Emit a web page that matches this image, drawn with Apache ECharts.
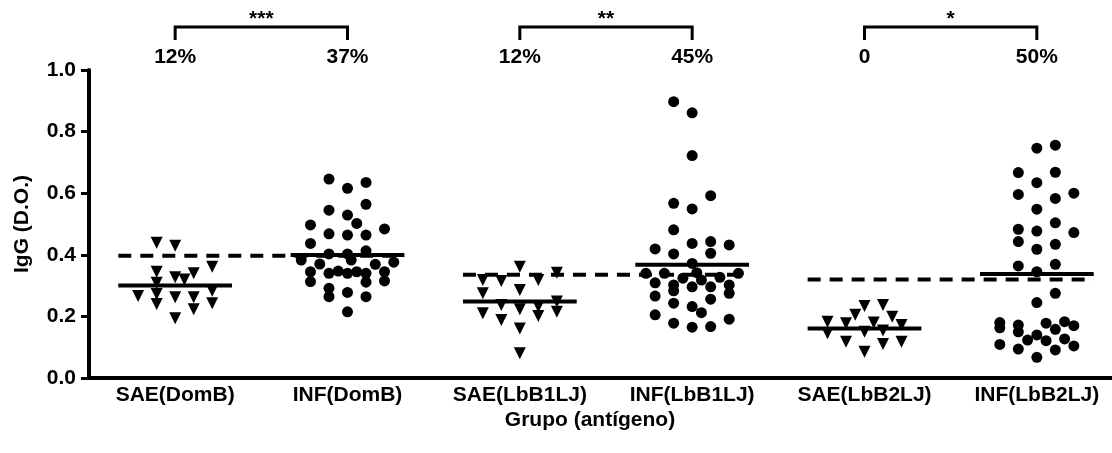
<!DOCTYPE html>
<html lang="en">
<head>
  <meta charset="UTF-8">
  <title>IgG (D.O.)</title>
  <style>html, body { margin: 0; padding: 0; background: #fff; }</style>
</head>
<body>
  <div id="chart" style="width:1112px;height:453px"></div>
  <script src="https://cdn.jsdelivr.net/npm/echarts@6/dist/echarts.min.js"></script>
  <script>
    // groups on the x axis
    var groups = ['SAE(DomB)', 'INF(DomB)', 'SAE(LbB1LJ)', 'INF(LbB1LJ)', 'SAE(LbB2LJ)', 'INF(LbB2LJ)'];

    // IgG values per group
    var saeDomB = [0.439, 0.429, 0.361, 0.345, 0.327, 0.320, 0.340, 0.309, 0.266, 0.273, 0.240, 0.262, 0.262, 0.223, 0.283, 0.243, 0.194];
    var infDomB = [0.646, 0.616, 0.635, 0.564, 0.545, 0.529, 0.502, 0.497, 0.484, 0.468, 0.464, 0.464, 0.437, 0.403, 0.403, 0.413,
      0.383, 0.370, 0.383, 0.369, 0.376, 0.345, 0.340, 0.347, 0.340, 0.345, 0.340, 0.345, 0.313, 0.311, 0.315, 0.291, 0.264, 0.278, 0.264, 0.215];
    var saeLbB1 = [0.361, 0.318, 0.315, 0.318, 0.342, 0.286, 0.275, 0.237, 0.223, 0.201, 0.215, 0.210, 0.188, 0.161, 0.080, 0.232, 0.248];
    var infLbB1 = [0.897, 0.861, 0.722, 0.592, 0.567, 0.549, 0.481, 0.437, 0.443, 0.432, 0.419, 0.403, 0.405, 0.372, 0.340, 0.340, 0.324, 0.342, 0.318,
      0.327, 0.340, 0.309, 0.302, 0.283, 0.296, 0.296, 0.302, 0.275, 0.266, 0.256, 0.243, 0.232, 0.212, 0.205, 0.191, 0.178, 0.165, 0.167];
    var saeLbB2 = [0.234, 0.237, 0.205, 0.199, 0.183, 0.178, 0.180, 0.172, 0.145, 0.118, 0.150, 0.154, 0.110, 0.118, 0.085];
    var infLbB2 = [0.746, 0.756, 0.667, 0.634, 0.668, 0.596, 0.583, 0.600, 0.548, 0.504, 0.483, 0.477, 0.472, 0.443, 0.418, 0.434, 0.364, 0.369, 0.345,
      0.275, 0.245, 0.180, 0.163, 0.172, 0.150, 0.178, 0.183, 0.170, 0.158, 0.123, 0.140, 0.121, 0.127, 0.109, 0.094, 0.091, 0.104, 0.067];

    // scatter column of each point (half-column steps, 0 = centre)
    var saeDomBCol = [-2, 0, 4, -2, 0, 1, 2, -2, -4, -2, -2, 0, 2, 2, 4, 4, 0];
    var infDomBCol = [-2, 0, 2, 2, -2, 0, 1, -4, 4, -2, 0, 2, -4, -2, 0, 2, -5, -3, 0.4, 3, 5, -4, -2, -1, 0, 1, 2, 4, -4, 2, 4, -2, -2, 0, 2, 0];
    var saeLbB1Col = [0, -4, -2, 2, 4, 0, -4, -2, 0, 2, 4, -4, -2, 0, 0, 2, 4];
    var infLbB1Col = [-2, 0, 0, 2, -2, 0, -2, 0, 2, 4, -4, -2, 2, 0, -5, -3, -1, 0.5, 1, 3, 5, -4, -2, -2, 0, 2, 4, 4, -4, 2, -2, 0, 1, -4, 4, -2, 0, 2];
    var saeLbB2Col = [0, 2, -1, 3, -4, -2, 1, 4, -4, -2, 0, 2, 2, 4, 0];
    var infLbB2Col = [0, 2, -2, 0, 2, -2, 2, 4, 0, 2, -2, 0, 4, -2, 0, 2, -2, 2, 0, 2, 0, -4, -4, -2, -2, 1, 3, 4, 2, -1, 0, 1, 3, -4, -2, 2, 4, 0];

    var groupValues = [saeDomB, infDomB, saeLbB1, infLbB1, saeLbB2, infLbB2];
    var groupCols = [saeDomBCol, infDomBCol, saeLbB1Col, infLbB1Col, saeLbB2Col, infLbB2Col];

    // group means (solid lines) and cut-offs (dashed lines)
    var means = [0.300, 0.399, 0.248, 0.368, 0.161, 0.338];
    var cutoffs = [0.397, 0.335, 0.320];

    // annotations above the plot
    var percents = ['12%', '37%', '12%', '45%', '0', '50%'];
    var stars = ['***', '**', '*'];
    var yTicks = [0, 0.2, 0.4, 0.6, 0.8, 1.0];

    var FONT = '"Liberation Sans", Arial, sans-serif';
    var colStep = 0.0537;
    var halfW = 0.33;

    var chart = echarts.init(document.getElementById('chart'));

    var series = [];
    groupValues.forEach(function (vals, g) {
      var isSae = g % 2 === 0;
      series.push({
        type: 'scatter',
        xAxisIndex: 1,
        symbol: isSae ? 'triangle' : 'circle',
        symbolRotate: isSae ? 180 : 0,
        symbolSize: isSae ? [12, 12] : 11,
        itemStyle: { color: '#000', opacity: 1 },
        silent: true,
        data: vals.map(function (v, i) {
          return [g + 1 + groupCols[g][i] * colStep, v];
        })
      });
    });

    // mean lines
    series.push({
      type: 'custom',
      xAxisIndex: 1,
      clip: false,
      silent: true,
      data: means.map(function (m, g) { return [g + 1, m]; }),
      renderItem: function (params, api) {
        var x = api.value(0), y = api.value(1);
        var a = api.coord([x - halfW, y]), b = api.coord([x + halfW, y]);
        return {
          type: 'line',
          shape: { x1: a[0], y1: a[1], x2: b[0], y2: b[1] },
          style: { stroke: '#000', lineWidth: 4 }
        };
      }
    });

    // dashed cut-off lines across each SAE/INF pair
    series.push({
      type: 'custom',
      xAxisIndex: 1,
      clip: false,
      silent: true,
      data: cutoffs.map(function (c, p) { return [p * 2 + 1, c]; }),
      renderItem: function (params, api) {
        var x = api.value(0), y = api.value(1);
        var a = api.coord([x - halfW, y]), b = api.coord([x + 1 + halfW, y]);
        return {
          type: 'line',
          shape: { x1: a[0], y1: a[1], x2: b[0], y2: b[1] },
          style: { stroke: '#000', lineWidth: 4, lineDash: [13, 9] }
        };
      }
    });

    // significance brackets and percentages
    series.push({
      type: 'custom',
      xAxisIndex: 1,
      clip: false,
      silent: true,
      data: stars.map(function (s, p) { return [p * 2 + 1, 1]; }),
      renderItem: function (params, api) {
        var p = params.dataIndex;
        var a = api.coord([api.value(0), api.value(1)]);
        var b = api.coord([api.value(0) + 1, api.value(1)]);
        var top = a[1];
        var txt = { fill: '#000', font: 'bold 21px ' + FONT, textAlign: 'center', textVerticalAlign: 'middle' };
        return {
          type: 'group',
          children: [
            {
              type: 'polyline',
              shape: { points: [[a[0], top - 30], [a[0], top - 43], [b[0], top - 43], [b[0], top - 30]] },
              style: { stroke: '#000', lineWidth: 3, fill: null }
            },
            { type: 'text', x: (a[0] + b[0]) / 2, y: top - 51, style: Object.assign({ text: stars[p] }, txt) },
            { type: 'text', x: a[0], y: top - 13, style: Object.assign({ text: percents[p * 2] }, txt) },
            { type: 'text', x: b[0], y: top - 13, style: Object.assign({ text: percents[p * 2 + 1] }, txt) }
          ]
        };
      }
    });

    var option = {
      backgroundColor: '#fff',
      animation: false,
      grid: { left: 89, right: -11, top: 70, bottom: 75, outerBoundsMode: 'none' },
      xAxis: [{
        type: 'category',
        data: groups,
        name: 'Grupo (antígeno)',
        nameLocation: 'middle',
        nameGap: 32,
        nameMoveOverlap: false,
        nameTextStyle: { color: '#000', fontFamily: FONT, fontWeight: 'bold', fontSize: 21, padding: [0, 32, 0, 0] },
        axisLine: { lineStyle: { color: '#000', width: 4 } },
        axisTick: { alignWithLabel: true, interval: 0, length: 6, lineStyle: { color: '#000', width: 3 } },
        axisLabel: { interval: 0, color: '#000', fontFamily: FONT, fontWeight: 'bold', fontSize: 21, margin: 7 },
        splitLine: { show: false }
      }, {
        type: 'value',
        min: 0.5,
        max: 6.5,
        show: false
      }],
      yAxis: {
        type: 'value',
        min: 0,
        max: 1,
        interval: 0.2,
        name: 'IgG (D.O.)',
        nameLocation: 'middle',
        nameGap: 56,
        nameTextStyle: { color: '#000', fontFamily: FONT, fontWeight: 'bold', fontSize: 21 },
        axisLine: { show: true, lineStyle: { color: '#000', width: 4 } },
        axisTick: { show: true, length: 8, lineStyle: { color: '#000', width: 3 } },
        axisLabel: {
          color: '#000', fontFamily: FONT, fontWeight: 'bold', fontSize: 21, margin: 13,
          formatter: function (v) { return yTicks.indexOf(v) >= 0 ? v.toFixed(1) : ''; }
        },
        splitLine: { show: false }
      },
      series: series
    };

    chart.setOption(option);
  </script>
</body>
</html>
